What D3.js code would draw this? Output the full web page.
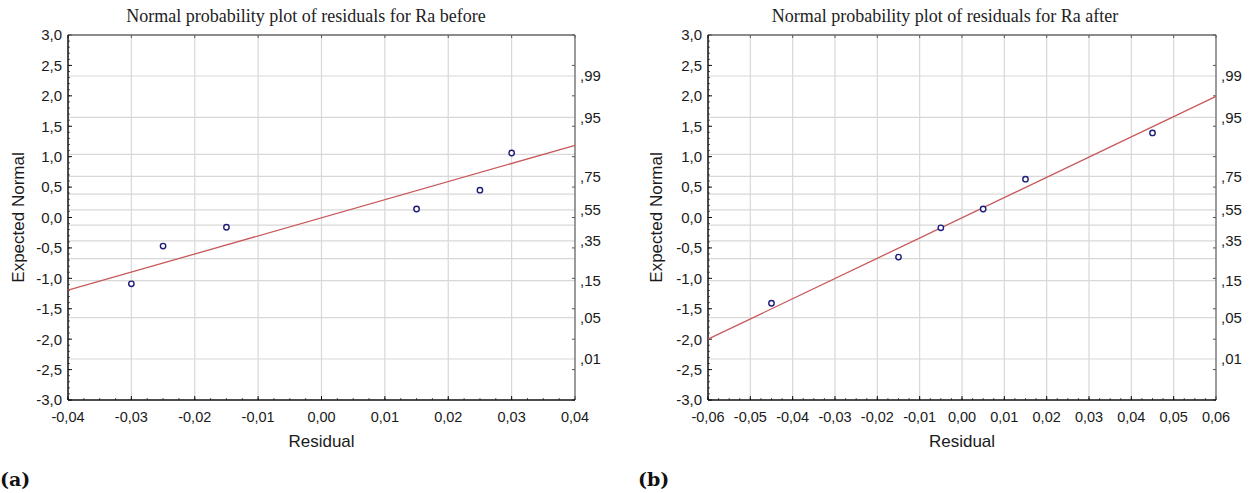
<!DOCTYPE html>
<html>
<head>
<meta charset="utf-8">
<script src="https://cdn.jsdelivr.net/npm/d3@7"></script>
<style>
  html, body { margin: 0; padding: 0; background: #fff; }
  svg { display: block; }
</style>
</head>
<body>
<svg id="chart" width="1251" height="493"></svg>
<script>
// Residuals and their expected normal values, one pair of arrays per panel
const beforeResidual = [-0.030, -0.025, -0.015, 0.015, 0.025, 0.030];
const beforeExpected = [-1.09, -0.47, -0.16, 0.14, 0.45, 1.06];
const afterResidual  = [-0.045, -0.015, -0.005, 0.005, 0.015, 0.045];
const afterExpected  = [-1.41, -0.65, -0.17, 0.14, 0.63, 1.39];

// Reference (fitted) lines, given by their end points
const beforeLineX = [-0.04, 0.04];
const beforeLineY = [-1.195, 1.186];
const afterLineX  = [-0.06, 0.06];
const afterLineY  = [-2.00, 1.99];

// Axis ticks
const beforeXTicks = [-0.04, -0.03, -0.02, -0.01, 0.00, 0.01, 0.02, 0.03, 0.04];
const afterXTicks  = [-0.06, -0.05, -0.04, -0.03, -0.02, -0.01, 0.00, 0.01, 0.02, 0.03, 0.04, 0.05, 0.06];
const yTicks = [-3.0, -2.5, -2.0, -1.5, -1.0, -0.5, 0.0, 0.5, 1.0, 1.5, 2.0, 2.5, 3.0];
const probLabels = [0.01, 0.05, 0.15, 0.35, 0.55, 0.75, 0.95, 0.99];
const probGrid = [0.01, 0.05, 0.15, 0.25, 0.35, 0.45, 0.55, 0.65, 0.75, 0.85, 0.95, 0.99];

const titles = ["Normal probability plot of residuals for Ra before",
                "Normal probability plot of residuals for Ra after"];
const panelTags = ["(a)", "(b)"];
const xTitle = "Residual";
const yTitle = "Expected Normal";

// Inverse standard normal CDF (Acklam) for the probability axis
function normInv(p) {
  const a = [-3.969683028665376e+01, 2.209460984245205e+02, -2.759285104469687e+02,
             1.383577518672690e+02, -3.066479806614716e+01, 2.506628277459239e+00];
  const b = [-5.447609879822406e+01, 1.615858368580409e+02, -1.556989798598866e+02,
             6.680131188771972e+01, -1.328068155288572e+01];
  const c = [-7.784894002430293e-03, -3.223964580411365e-01, -2.400758277161838e+00,
             -2.549671180539190e+00, 4.374664141464968e+00, 2.938163982698783e+00];
  const d = [7.784695709041462e-03, 3.224671290700398e-01, 2.445134137142996e+00,
             3.754408661907416e+00];
  const pl = 0.02425, ph = 1 - pl;
  let q, r;
  if (p < pl) {
    q = Math.sqrt(-2 * Math.log(p));
    return (((((c[0]*q+c[1])*q+c[2])*q+c[3])*q+c[4])*q+c[5]) / ((((d[0]*q+d[1])*q+d[2])*q+d[3])*q+1);
  } else if (p <= ph) {
    q = p - 0.5; r = q * q;
    return (((((a[0]*r+a[1])*r+a[2])*r+a[3])*r+a[4])*r+a[5])*q / (((((b[0]*r+b[1])*r+b[2])*r+b[3])*r+b[4])*r+1);
  } else {
    q = Math.sqrt(-2 * Math.log(1 - p));
    return -(((((c[0]*q+c[1])*q+c[2])*q+c[3])*q+c[4])*q+c[5]) / ((((d[0]*q+d[1])*q+d[2])*q+d[3])*q+1);
  }
}

const comma = s => s.replace(".", ",");
const fmtX = v => comma(d3.format(".2f")(v)).replace("−", "-");
const fmtY = v => comma(d3.format(".1f")(v)).replace("−", "-");
const fmtP = p => comma(d3.format(".2f")(p)).replace(/^0/, "");

const svg = d3.select("#chart");
const SANS = "'Liberation Sans', Arial, sans-serif";
const SERIF = "'Liberation Serif', 'Times New Roman', serif";

const panels = [
  { left: 68, right: 575, xs: beforeResidual, ys: beforeExpected, lx: beforeLineX, ly: beforeLineY,
    xTicks: beforeXTicks, titleX: 306, yTitleX: 18, tagX: 0 },
  { left: 708, right: 1216, xs: afterResidual, ys: afterExpected, lx: afterLineX, ly: afterLineY,
    xTicks: afterXTicks, titleX: 945, yTitleX: 656, tagX: 638 }
];
const plotTop = 35, plotBottom = 400;

panels.forEach((P, i) => {
  const xDom = d3.extent(P.xTicks);
  const x = d3.scaleLinear().domain(xDom).range([P.left, P.right]);
  const y = d3.scaleLinear().domain([-3, 3]).range([plotBottom, plotTop]);
  const g = svg.append("g");

  // grid: vertical at residual ticks, horizontal at probability levels
  g.append("g").selectAll("line").data(P.xTicks.slice(1, -1)).join("line")
    .attr("x1", d => x(d)).attr("x2", d => x(d)).attr("y1", plotTop).attr("y2", plotBottom)
    .attr("stroke", "#d8d8d8").attr("stroke-width", 1.2);
  g.append("g").selectAll("line").data(probGrid).join("line")
    .attr("x1", P.left).attr("x2", P.right)
    .attr("y1", d => y(normInv(d))).attr("y2", d => y(normInv(d)))
    .attr("stroke", "#d8d8d8").attr("stroke-width", 1.2);

  // minor and major ticks on the frame (inward)
  const xStep = (P.xTicks[1] - P.xTicks[0]) / 4;
  const xMinor = d3.range(xDom[0], xDom[1] + xStep / 2, xStep);
  g.append("g").selectAll("line").data(xMinor).join("line")
    .attr("x1", d => x(d)).attr("x2", d => x(d))
    .attr("y1", plotBottom).attr("y2", plotBottom - 2)
    .attr("stroke", "#333").attr("stroke-width", 0.8);
  g.append("g").selectAll("line").data(P.xTicks).join("line")
    .attr("x1", d => x(d)).attr("x2", d => x(d))
    .attr("y1", plotBottom).attr("y2", plotBottom - 4)
    .attr("stroke", "#111").attr("stroke-width", 1);
  g.append("g").selectAll("line").data(P.xTicks).join("line")
    .attr("x1", d => x(d)).attr("x2", d => x(d))
    .attr("y1", plotTop).attr("y2", plotTop + 3)
    .attr("stroke", "#555").attr("stroke-width", 1);
  const yMinor = d3.range(-3, 3.05, 0.1);
  g.append("g").selectAll("line").data(yMinor).join("line")
    .attr("x1", P.left).attr("x2", P.left + 2)
    .attr("y1", d => y(d)).attr("y2", d => y(d))
    .attr("stroke", "#333").attr("stroke-width", 0.8);
  g.append("g").selectAll("line").data(yTicks).join("line")
    .attr("x1", P.left).attr("x2", P.left + 4)
    .attr("y1", d => y(d)).attr("y2", d => y(d))
    .attr("stroke", "#111").attr("stroke-width", 1);
  g.append("g").selectAll("line").data(yTicks).join("line")
    .attr("x1", P.right).attr("x2", P.right - 3)
    .attr("y1", d => y(d)).attr("y2", d => y(d))
    .attr("stroke", "#555").attr("stroke-width", 1);

  // frame: dark left/bottom, grey top/right
  g.append("line").attr("x1", P.left).attr("x2", P.right).attr("y1", plotTop).attr("y2", plotTop)
    .attr("stroke", "#666").attr("stroke-width", 1.3);
  g.append("line").attr("x1", P.right).attr("x2", P.right).attr("y1", plotTop).attr("y2", plotBottom)
    .attr("stroke", "#666").attr("stroke-width", 1.3);
  g.append("line").attr("x1", P.left).attr("x2", P.left).attr("y1", plotTop).attr("y2", plotBottom)
    .attr("stroke", "#111").attr("stroke-width", 1.5);
  g.append("line").attr("x1", P.left).attr("x2", P.right).attr("y1", plotBottom).attr("y2", plotBottom)
    .attr("stroke", "#111").attr("stroke-width", 1.5);

  // tick labels
  g.append("g").selectAll("text").data(P.xTicks).join("text")
    .attr("x", d => x(d)).attr("y", plotBottom + 22)
    .attr("text-anchor", "middle").attr("font-family", SANS).attr("font-size", 14.5)
    .attr("fill", "#1a1a1a").text(fmtX);
  g.append("g").selectAll("text").data(yTicks).join("text")
    .attr("x", P.left - 6).attr("y", d => y(d)).attr("dy", "0.36em")
    .attr("text-anchor", "end").attr("font-family", SANS).attr("font-size", 15)
    .attr("fill", "#1a1a1a").text(fmtY);
  g.append("g").selectAll("text").data(probLabels).join("text")
    .attr("x", P.right + 5).attr("y", d => y(normInv(d))).attr("dy", "0.36em")
    .attr("text-anchor", "start").attr("font-family", SANS).attr("font-size", 15)
    .attr("fill", "#1a1a1a").text(fmtP);

  // fitted line
  const line = d3.line().x(d => x(d[0])).y(d => y(d[1]));
  g.append("path").datum(d3.zip(P.lx, P.ly)).attr("d", line)
    .attr("fill", "none").attr("stroke", "#c8595b").attr("stroke-width", 1.3);

  // residual points
  g.append("g").selectAll("circle").data(d3.zip(P.xs, P.ys)).join("circle")
    .attr("cx", d => x(d[0])).attr("cy", d => y(d[1])).attr("r", 2.7)
    .attr("fill", "#fff").attr("stroke", "#1c1c7a").attr("stroke-width", 1.4);

  // titles
  g.append("text").attr("x", P.titleX).attr("y", 22)
    .attr("text-anchor", "middle").attr("font-family", SERIF).attr("font-size", 18)
    .attr("fill", "#222").text(titles[i]);
  g.append("text").attr("x", (P.left + P.right) / 2).attr("y", 447)
    .attr("text-anchor", "middle").attr("font-family", SANS).attr("font-size", 17)
    .attr("fill", "#1a1a1a").text(xTitle);
  g.append("text")
    .attr("transform", `translate(${P.yTitleX},${(plotTop + plotBottom) / 2}) rotate(-90)`)
    .attr("dy", "0.36em")
    .attr("text-anchor", "middle").attr("font-family", SANS).attr("font-size", 17)
    .attr("fill", "#1a1a1a").text(yTitle);
  g.append("text").attr("x", P.tagX).attr("y", 486)
    .attr("font-family", "'DejaVu Serif', serif").attr("font-weight", "bold").attr("font-size", 19)
    .attr("fill", "#111").text(panelTags[i]);
});
</script>
</body>
</html>
